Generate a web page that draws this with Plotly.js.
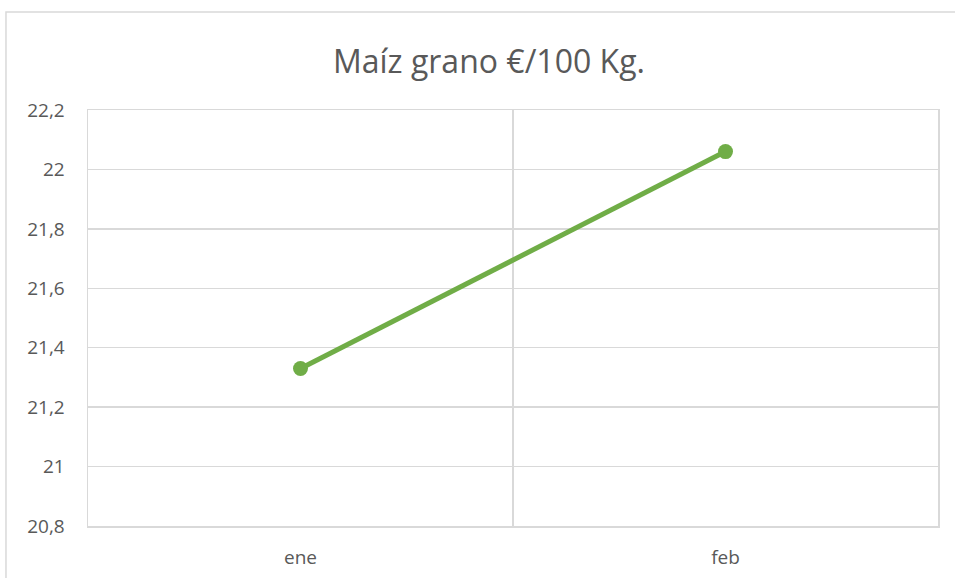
<!DOCTYPE html>
<html>
<head>
<meta charset="utf-8">
<script src="https://cdn.plot.ly/plotly-3.0.1.min.js"></script>
<style>html,body{margin:0;padding:0;background:#fff;}#chart{width:955px;height:578px;}</style>
</head>
<body>
<div id="chart"></div>
<script>
const categories = ['ene', 'feb'];
const values = [21.33, 22.06];
const yTickVals = [20.8, 21.0, 21.2, 21.4, 21.6, 21.8, 22.0, 22.2];
const yTickText = ['20,8', '21', '21,2', '21,4', '21,6', '21,8', '22', '22,2'];
const titleText = 'Maíz grano €/100 Kg.';

const grid = '#D9D9D9';
const txt = '#595959';
const font = 'Open Sans, Liberation Sans, sans-serif';

Plotly.newPlot('chart', [{
  x: categories,
  y: values,
  type: 'scatter',
  mode: 'lines+markers',
  line: {color: '#70AD47', width: 5},
  marker: {color: '#70AD47', size: 15},
  hoverinfo: 'none'
}], {
  width: 955, height: 578,
  margin: {l: 88, r: 17, t: 110, b: 52, pad: 0},
  paper_bgcolor: '#fff', plot_bgcolor: '#fff',
  separators: ', ',
  showlegend: false,
  title: {text: titleText, font: {family: font, size: 32, color: txt},
          x: 0.512, xref: 'container', xanchor: 'center', y: 0.893, yref: 'container', yanchor: 'middle'},
  xaxis: {type: 'category', range: [-0.5, 1.5], tickson: 'boundaries',
          showgrid: true, gridcolor: grid, gridwidth: 1.5,
          showline: true, mirror: true, linecolor: grid, linewidth: 1.5,
          ticks: '', ticklabelstandoff: 14,
          tickfont: {family: font, size: 19, color: txt}, zeroline: false, fixedrange: true},
  yaxis: {range: [20.8, 22.2], tickvals: yTickVals, ticktext: yTickText,
          showgrid: true, gridcolor: grid, gridwidth: 1.5, zeroline: false,
          showline: true, mirror: true, linecolor: grid, linewidth: 1.5,
          ticks: 'outside', ticklen: 18, tickcolor: 'rgba(0,0,0,0)',
          tickfont: {family: font, size: 19, color: txt}, fixedrange: true},
  shapes: [{type: 'rect', xref: 'paper', yref: 'paper', layer: 'below',
            x0: -0.0965, x1: 1.2, y0: -0.3, y1: 1.2356,
            line: {color: grid, width: 1.5}, fillcolor: 'rgba(0,0,0,0)'}]
}, {displayModeBar: false, staticPlot: true});
</script>
</body>
</html>
